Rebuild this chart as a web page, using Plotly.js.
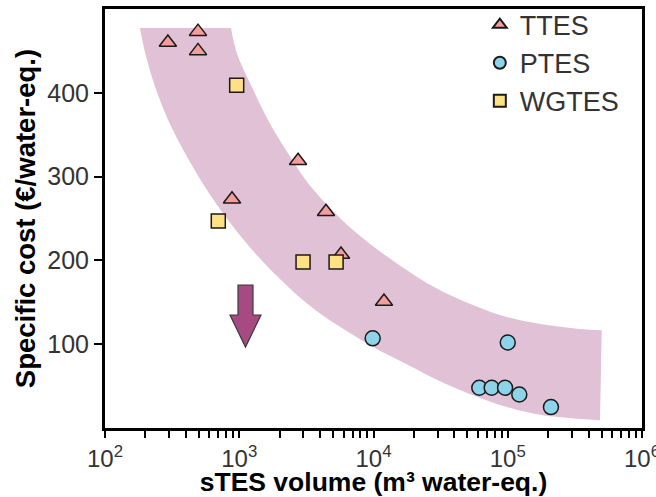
<!DOCTYPE html>
<html>
<head>
<meta charset="utf-8">
<script src="https://cdn.plot.ly/plotly-3.0.1.min.js"></script>
<style>html,body{margin:0;padding:0;background:#fff;}#chart{width:656px;height:497px;}</style>
</head>
<body>
<div id="chart"></div>
<script>
// TTES (tank) data
const ttesVolume = [294, 493, 493, 883, 2742, 4427, 5726, 11970];
const ttesCost   = [460, 473, 450, 273, 319, 258, 207, 151];
// PTES (pit) data
const ptesVolume = [9860, 100000, 61400, 75900, 95500, 121900, 209800];
const ptesCost   = [107, 102, 48, 48, 48, 40, 25];
// WGTES (water-gravel) data
const wgtesVolume = [957, 698, 2987, 5265];
const wgtesCost   = [409, 247, 198, 198];
// Shaded trend band: lower-left edge and upper-right edge
const bandLowVolume = [182, 199, 236, 295, 394, 556, 825, 1162, 1784, 3180, 5629, 9915, 17670, 31280, 55110, 98220, 173900, 486600];
const bandLowCost   = [477.2, 447.7, 407.4, 367.6, 328.2, 287.6, 248.1, 218.3, 186.0, 149.0, 120.7, 96.8, 76.1, 55.8, 39.1, 25.1, 15.8, 9.2];
const bandHighVolume = [868, 957, 1238, 1637, 2307, 3423, 7035, 17670, 31280, 98220, 306200, 501000];
const bandHighCost   = [477.2, 447.7, 407.4, 367.6, 327.8, 287.9, 236.2, 188.4, 164.5, 132.6, 119.1, 116.7];
// Axis ticks
const xTickVals = [100, 1000, 10000, 100000, 1000000];
const xTickText = ['10<sup>2</sup>', '10<sup>3</sup>', '10<sup>4</sup>', '10<sup>5</sup>', '10<sup>6</sup>'];
const xMinorVals = [200,300,400,500,600,700,800,900,2000,3000,4000,5000,6000,7000,8000,9000,
                    20000,30000,40000,50000,60000,70000,80000,90000,200000,300000,400000,500000,600000,700000,800000,900000];
const yTickVals = [100, 200, 300, 400];

const FONT = 'Liberation Sans, Arial, Helvetica, sans-serif';
const edge = {color: '#1a1a1a', width: 1.5};
const BAND = '#e1c1d5';

const traces = [
  {x: bandLowVolume, y: bandLowCost, type: 'scatter', mode: 'lines',
   line: {width: 0, color: 'rgba(0,0,0,0)', shape: 'spline', smoothing: 1}, showlegend: false, hoverinfo: 'skip'},
  {x: bandHighVolume, y: bandHighCost, type: 'scatter', mode: 'lines', fill: 'tonexty', fillcolor: BAND,
   line: {width: 0, color: 'rgba(0,0,0,0)', shape: 'spline', smoothing: 1}, showlegend: false, hoverinfo: 'skip'},
  {x: ttesVolume, y: ttesCost, type: 'scatter', mode: 'markers', name: 'TTES',
   marker: {symbol: 'triangle-up', size: 15, color: '#f79c9c', line: edge}},
  {x: ptesVolume, y: ptesCost, type: 'scatter', mode: 'markers', name: 'PTES',
   marker: {symbol: 'circle', size: 15, color: '#8ed3e9', line: edge}},
  {x: wgtesVolume, y: wgtesCost, type: 'scatter', mode: 'markers', name: 'WGTES',
   marker: {symbol: 'square', size: 14, color: '#fde184', line: edge}}
];

const layout = {
  width: 656, height: 497,
  margin: {l: 105, r: 14, t: 9, b: 69, autoexpand: false},
  paper_bgcolor: '#fff', plot_bgcolor: '#fff',
  font: {family: FONT, color: '#222'},
  showlegend: true,
  legend: {x: 0.698, y: 1.02, xanchor: 'left', yanchor: 'top', bgcolor: 'rgba(0,0,0,0)', traceorder: 'normal',
           font: {size: 27, family: FONT, color: '#333'}, itemsizing: 'constant', tracegroupgap: 0},
  xaxis: {
    type: 'log', range: [2, 6], automargin: false, ticklabeloverflow: 'allow',
    tickmode: 'array', tickvals: xTickVals, ticktext: xTickText,
    ticks: 'outside', ticklen: 7, tickwidth: 2, tickcolor: '#000',
    minor: {tickmode: 'array', tickvals: xMinorVals, ticks: 'outside', ticklen: 7, tickwidth: 2, tickcolor: '#000', showgrid: false},
    showline: true, linewidth: 3, linecolor: '#000', mirror: true,
    showgrid: false, zeroline: false,
    tickfont: {size: 24, family: FONT, color: '#333'},
    title: {text: '<b>sTES volume (m³ water-eq.)</b>', font: {size: 26.5, family: FONT, color: '#000'}, standoff: 2}
  },
  yaxis: {
    range: [0, 500], automargin: false,
    tickmode: 'array', tickvals: yTickVals,
    ticks: 'outside', ticklen: 8, tickwidth: 2, tickcolor: '#000',
    showline: true, linewidth: 3, linecolor: '#000', mirror: true,
    showgrid: false, zeroline: false,
    tickfont: {size: 25, family: FONT, color: '#333'},
    title: {text: '<b>Specific cost (€/water-eq.)</b>', font: {size: 27.5, family: FONT, color: '#000'}, standoff: 4}
  },
  shapes: [{
    type: 'path', xref: 'paper', yref: 'paper',
    path: 'M 0.2477 0.3413 L 0.2756 0.3413 L 0.2756 0.2697 L 0.2905 0.2697 L 0.2616 0.1933 L 0.2328 0.2697 L 0.2477 0.2697 Z',
    fillcolor: '#a84a82', line: {color: '#3a3a3a', width: 1.2}
  }]
};

Plotly.newPlot('chart', traces, layout, {displayModeBar: false, staticPlot: true});
</script>
</body>
</html>
